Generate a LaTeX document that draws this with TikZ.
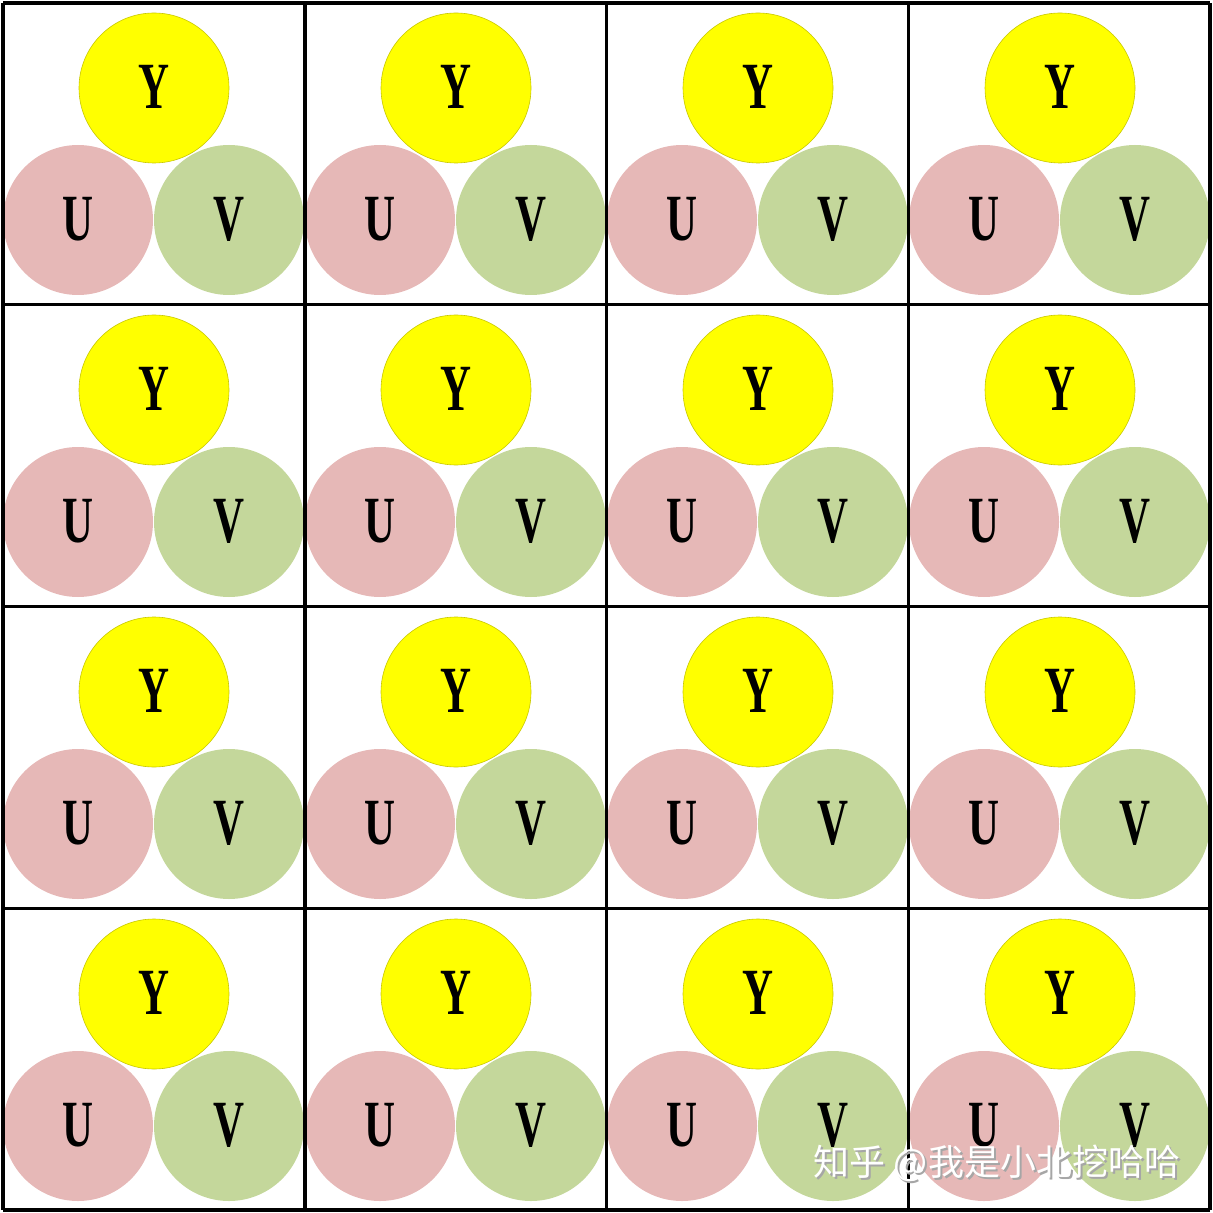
\documentclass[tikz,border=0pt]{standalone}
\usepackage{fontspec}
\setmainfont{Liberation Serif}
\newfontfamily\cjk{Noto Sans CJK SC}
\usepackage{xcolor}
\usetikzlibrary{positioning}
\definecolor{yfill}{HTML}{FFFF00}
\definecolor{yline}{HTML}{C8C800}
\definecolor{ufill}{HTML}{E6B8B7}
\definecolor{vfill}{HTML}{C4D79B}

\begin{document}
\begin{tikzpicture}[x=0.5pt,y=-0.5pt]

\tikzset{circ/.style = {shape=circle,minimum size=75pt,inner sep=0pt,
  font=\fontsize{33}{33}\selectfont\bfseries}}
\tikzset{ycirc/.style = {circ,fill=yfill,draw=yline,line width=0.3pt}}
\tikzset{ucirc/.style = {circ,fill=ufill}}
\tikzset{vcirc/.style = {circ,fill=vfill}}
\tikzset{cellline/.style = {line width=1.75pt,black}}
\newcommand{\lett}[1]{\scalebox{0.65}[1]{#1}}

\useasboundingbox (0,0) rectangle (1213,1213);

% circles
\foreach \r in {0,...,3}
  \foreach \c in {0,...,3} {
    \node[ycirc] (y\r\c) at (154+302*\c, 88+302*\r) {\raisebox{1.5pt}{\lett{Y}}};
    \node[ucirc] (u\r\c) at (78+302*\c, 220+302*\r) {\raisebox{1.5pt}{\lett{U}}};
    \node[vcirc] (v\r\c) at (229+302*\c, 220+302*\r) {\raisebox{1.5pt}{\lett{V}}};
  }

% table lines
\foreach \i in {0,...,4} {
  \draw[cellline] (3+301.75*\i, 3) -- (3+301.75*\i, 1210);
  \draw[cellline] (3, 3+301.75*\i) -- (1210, 3+301.75*\i);
}

% watermark
\node[text=gray!70,font=\cjk\fontsize{18}{18}\selectfont] (wmshadow) at (999,1165) {知乎 @我是小北挖哈哈};
\node[text=white,font=\cjk\fontsize{18}{18}\selectfont] (wm) at (997,1163) {知乎 @我是小北挖哈哈};
\end{tikzpicture}
\end{document}
